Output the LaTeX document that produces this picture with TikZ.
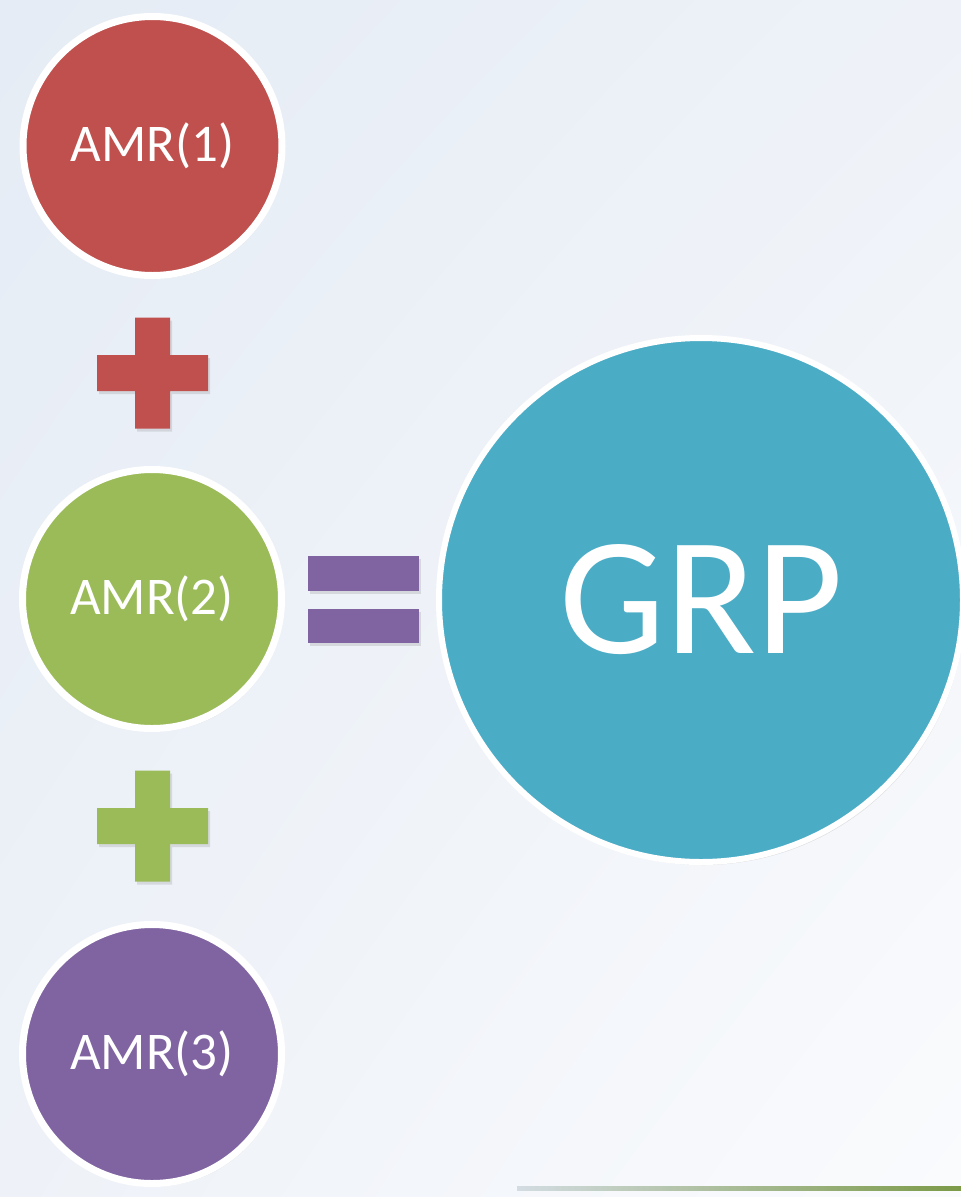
\documentclass[tikz,border=0pt]{standalone}
\usepackage{fontspec}
\setmainfont{Carlito}
\usetikzlibrary{shadows}
\usetikzlibrary{shadings}

\definecolor{amrred}{HTML}{C0504D}
\definecolor{amrgreen}{HTML}{9BBB59}
\definecolor{amrpurple}{HTML}{8064A2}
\definecolor{grpblue}{HTML}{4BACC6}
\definecolor{bgdark}{HTML}{E5ECF5}
\definecolor{bgmid}{HTML}{EEF2F8}
\definecolor{bglight}{HTML}{FAFBFD}
\definecolor{rulegrey}{HTML}{D3DCE2}
\definecolor{ruleolive}{HTML}{7C9A48}

\tikzset{
  softshadow/.style={drop shadow={opacity=0.22, shadow xshift=2pt, shadow yshift=-3pt}},
  ball/.style={circle, draw=white, line width=7pt, inner sep=0pt, minimum size=259pt,
    text=white, font=\fontsize{53}{60}\selectfont, softshadow},
  bigball/.style={ball, line width=6pt, minimum size=524pt, font=\fontsize{168}{180}\selectfont},
  sign/.style={softshadow},
}

\begin{document}
\begin{tikzpicture}[x=1pt,y=-1pt]
\useasboundingbox (0,0) rectangle (961,1197);
\shade[upper left=bgdark, upper right=bgmid, lower left=bgmid, lower right=bglight] (0,0) rectangle (961,1197);

% the three terms and the result
\node[ball, fill=amrred] (amr1) at (152.5,146) {AMR(1)};
\node[ball, fill=amrgreen] (amr2) at (152,599) {AMR(2)};
\node[ball, fill=amrpurple] (amr3) at (152,1054) {AMR(3)};
\node[bigball, fill=grpblue] (grp) at (701,600) {GRP};

% plus signs
\begin{scope}[shift={(152.5,373)}]
\fill[sign, amrred] (-55.5,-18) rectangle (55.5,18) (-17.5,-55.5) rectangle (17.5,55.5);
\end{scope}

\begin{scope}[shift={(152.5,826)}]
\fill[sign, amrgreen] (-55.5,-18) rectangle (55.5,18) (-17.5,-55.5) rectangle (17.5,55.5);
\end{scope}

% equals sign
\begin{scope}[shift={(363.5,599.5)}]
\fill[sign, amrpurple] (-55.5,-43.5) rectangle (55.5,-8.5);
\fill[sign, amrpurple] (-55.5,9.5) rectangle (55.5,43.5);
\end{scope}

% rule at the bottom
\shade[left color=rulegrey, right color=ruleolive] (517,1186) rectangle (961,1190);
\end{tikzpicture}
\end{document}
